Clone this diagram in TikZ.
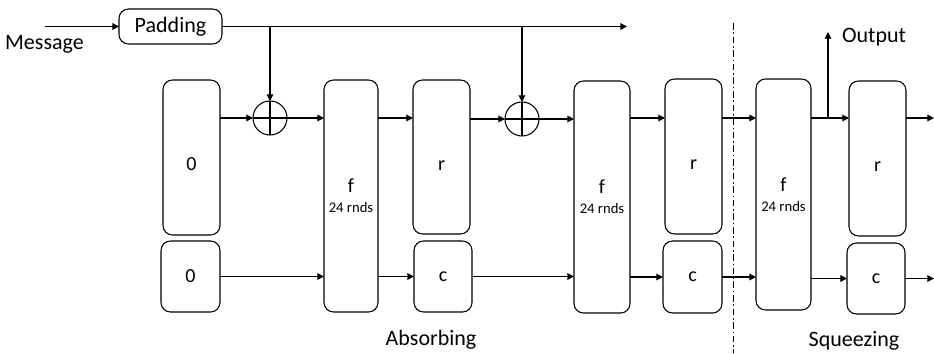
\documentclass[tikz,border=0pt]{standalone}
\usepackage{fontspec}
\setmainfont{Carlito}
\usetikzlibrary{arrows.meta,calc,positioning}

\begin{document}
\begin{tikzpicture}[x=0.75pt,y=-0.75pt,line width=0.8pt,
  every node/.style={font=\fontsize{15}{17}\selectfont,align=center},
  s/.style={draw,rounded corners=2.5mm,inner sep=0pt,outer sep=0pt},
  sz/.style 2 args={minimum width=#1*0.75pt,minimum height=#2*0.75pt},
  tp/.style={text height=20pt,text depth=0pt},
  a/.style={-{Triangle[length=5pt,width=5pt]}},
  xo/.style={draw,circle,minimum size=25.5pt,inner sep=0pt,outer sep=0pt,
    path picture={\draw (path picture bounding box.north)--(path picture bounding box.south)
      (path picture bounding box.west)--(path picture bounding box.east);}},
  lbl/.style={font=\fontsize{16.5}{19}\selectfont},
  sep/.style={dash pattern=on 5pt off 2pt on 1.2pt off 2pt,line width=0.6pt}]
  \useasboundingbox (0,0) rectangle (934,353);
  % message and padding
  \node[s,lbl,sz={103}{35}] (pad) at (170.5,26.5) {Padding};
  \node[lbl] (msg) at (44.5,44) {Message};
  \coordinate (mst) at (45,26.5);
  \coordinate (pend) at (627,26.5);
  % initial state
  \node[s,tp,sz={57}{155}] (z1) at (191.5,157.5) {0};
  \node[s,sz={59}{71}] (z2) at (190.5,276.5) {0};
  \node[xo] (x1) at (270,118) {};
  \node[s,sz={54}{232}] (f1) at (351,196) {f\\[-2pt]{\fontsize{11}{13}\selectfont 24 rnds}};
  \node[s,tp,sz={57}{154}] (r1) at (441.5,157) {r};
  \node[s,sz={58}{71}] (c1) at (443,276.5) {c};
  \node[xo] (x2) at (522,119) {};
  \node[s,sz={56}{232}] (f2) at (602,197) {f\\[-2pt]{\fontsize{11}{13}\selectfont 24 rnds}};
  \node[s,tp,sz={57}{155}] (r2) at (693.5,156.5) {r};
  \node[s,sz={59}{72}] (c2) at (692.5,277) {c};
  % squeezing
  \node[s,sz={55}{231}] (f3) at (783.5,194.5) {f\\[-2pt]{\fontsize{11}{13}\selectfont 24 rnds}};
  \node[s,tp,sz={57}{155}] (r3) at (877.5,158.5) {r};
  \node[s,sz={58}{71}] (c3) at (876,278.5) {c};
  \coordinate (br) at (828,118);
  \coordinate (outp) at (828,32);
  \node[lbl] (otxt) at (874,37) {Output};
  \coordinate (rend) at (934,118);
  \coordinate (cend) at (934,278.5);
  \node[lbl] (absb) at (431,340) {Absorbing};
  \node[lbl] (sqz) at (854,341) {Squeezing};
  \draw[sep] (733,23) -- (733,353);
  % connectors
  \draw[a] (mst) -- (pad.west);
  \draw[a] (pad.east |- pend) -- (pend);
  \draw[a] (x1 |- pend) -- (x1.north);
  \draw[a] (x2 |- pend) -- (x2.north);
  \draw[a] (x1 -| z1.east) -- (x1.west);
  \draw[a] (x1.east) -- (x1 -| f1.west);
  \draw[a] (x1 -| f1.east) -- (x1 -| r1.west);
  \draw[a] (x2 -| r1.east) -- (x2.west);
  \draw[a] (x2.east) -- (x2 -| f2.west);
  \draw[a] (br -| f2.east) -- (br -| r2.west);
  \draw[a] (br -| r2.east) -- (br -| f3.west);
  \draw[a] (br -| f3.east) -- (br -| r3.west);
  \draw[a] (br) -- (outp);
  \draw[a] (br -| r3.east) -- (rend);
  \draw[a] (z2.east) -- (z2 -| f1.west);
  \draw[a] (c1 -| f1.east) -- (c1.west);
  \draw[a] (c1.east) -- (c1 -| f2.west);
  \draw[a] (c2 -| f2.east) -- (c2.west);
  \draw[a] (c2.east) -- (c2 -| f3.west);
  \draw[a] (c3 -| f3.east) -- (c3.west);
  \draw[a] (c3.east) -- (cend);
\end{tikzpicture}
\end{document}
